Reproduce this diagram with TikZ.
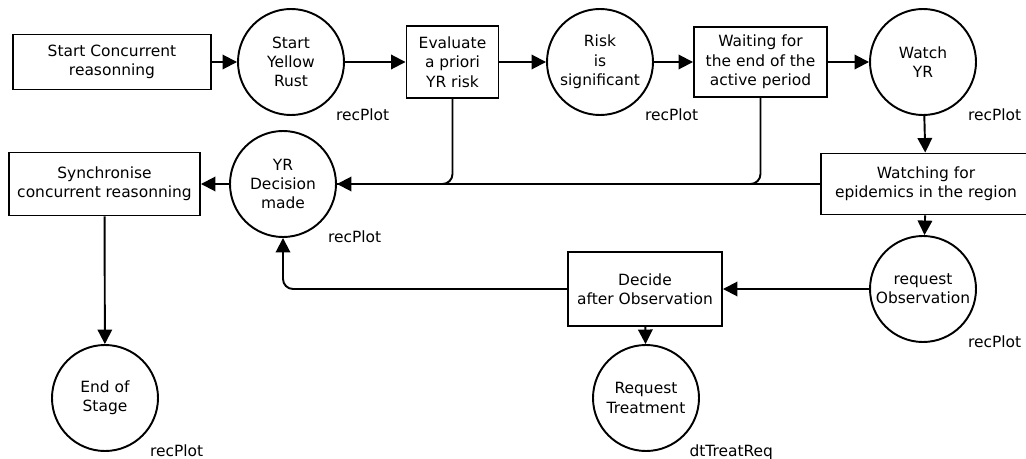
\documentclass[tikz,border=0pt]{standalone}
\usepackage{fontspec}
\setmainfont{DejaVu Sans}
\usetikzlibrary{positioning, arrows.meta}
\tikzset{
  font=\fontsize{8.8pt}{11pt}\selectfont,
  % Set arrowhead
  >={Triangle[length=0.29cm, width=0.29cm]},
  % Connector
  flow/.style={->, line width=1.1pt},
  link/.style={line width=1.1pt, rounded corners=0.2cm},
  % State (circle) node
  state/.style={draw, line width=1.1pt, fill=white, shape=circle,
    minimum size=2.12cm, inner sep=0pt, align=center},
  % Task (box) node
  task/.style={draw, line width=1.1pt, fill=white, shape=rectangle,
    inner sep=0pt, align=center},
  % Tag under a state
  tag/.style={inner sep=0pt},
}
\begin{document}
\begin{tikzpicture}
  \clip (0,0) rectangle (20.52,-9.18);

  % top row
  \node[task, minimum width=3.96cm, minimum height=1.1cm] (start) at (2.24,-1.24)
    {Start Concurrent\\reasonning};
  \node[state] (yrstart) at (5.82,-1.24) {Start\\Yellow\\Rust};
  \node[task, minimum width=1.84cm, minimum height=1.44cm] (evaluate) at (9.05,-1.24)
    {Evaluate\\a priori\\YR risk};
  \node[state] (risk) at (12.0,-1.24) {Risk\\is\\significant};
  \node[task, minimum width=2.66cm, minimum height=1.4cm] (waiting) at (15.21,-1.24)
    {Waiting for\\the end of the\\active period};
  \node[state] (watch) at (18.46,-1.24) {Watch\\YR};

  % middle row
  \node[task, minimum width=3.82cm, minimum height=1.26cm] (sync) at (2.09,-3.68)
    {Synchronise\\concurrent reasonning};
  \node[state] (decision) at (5.66,-3.68) {YR\\Decision\\made};
  \node[task, minimum width=4.2cm, minimum height=1.22cm] (watching) at (18.52,-3.68)
    {Watching for\\epidemics in the region};

  % bottom rows
  \node[task, minimum width=3.08cm, minimum height=1.48cm] (decide) at (12.9,-5.78)
    {Decide\\after Observation};
  \node[state] (reqobs) at (18.46,-5.78) {request\\Observation};
  \node[state] (treat) at (12.92,-7.96) {Request\\Treatment};
  \node[state] (endstage) at (2.1,-7.96) {End of\\Stage};

  % tags
  \node[tag, below right=0.16 and 0.13 of yrstart.south east] (yrstartTag) {recPlot};
  \node[tag, below right=0.16 and 0.13 of risk.south east] (riskTag) {recPlot};
  \node[tag, below right=0.16 and 0.13 of watch.south east] (watchTag) {recPlot};
  \node[tag, below right=0.16 and 0.13 of decision.south east] (decisionTag) {recPlot};
  \node[tag, below right=0.16 and 0.13 of reqobs.south east] (reqobsTag) {recPlot};
  \node[tag, below right=0.16 and 0.13 of endstage.south east] (endstageTag) {recPlot};
  \node[tag, below right=0.16 and 0.1 of treat.south east] (treatTag) {dtTreatReq};

  % connectors
  \draw[flow] (start) -- (yrstart);
  \draw[flow] (yrstart) -- (evaluate);
  \draw[flow] (evaluate) -- (risk);
  \draw[flow] (risk) -- (waiting);
  \draw[flow] (waiting) -- (watch);
  \draw[flow] (watch) -- (watching);
  \draw[flow] (watching) -- (reqobs);
  \draw[flow] (reqobs) -- (decide);
  \draw[flow] (decide) -- (treat);
  \draw[flow] (watching.west) -- (decision.east);
  \draw[link] (evaluate.south) |- (decision.east);
  \draw[link] (waiting.south) |- (decision.east);
  \draw[flow, link] (decide.west) -| (decision.south);
  \draw[flow] (decision) -- (sync);
  \draw[flow] (sync) -- (endstage);
\end{tikzpicture}
\end{document}
